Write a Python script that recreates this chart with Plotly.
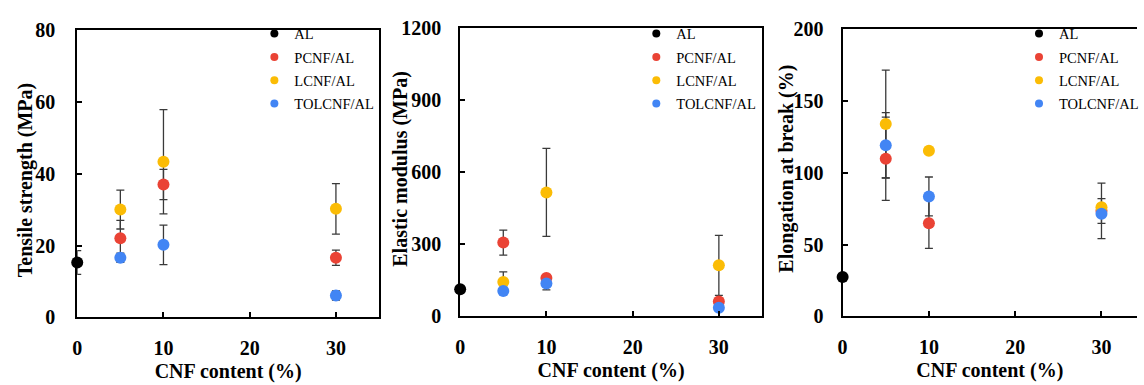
import plotly.graph_objects as go

W, H = 1144, 385

# ---------------- data ----------------
series_names = ["AL", "PCNF/AL", "LCNF/AL", "TOLCNF/AL"]
series_colors = ["#000000", "#EA4335", "#FBBC05", "#4285F4"]

x_al = [0]
x_cnf = [5, 10, 30]

# Tensile strength (MPa)
ts_al = [15.3]
ts_al_err = [3.3]
ts_pcnf = [22.0, 37.0, 16.6]
ts_pcnf_err = [5.0, 4.2, 2.1]
ts_lcnf = [30.0, 43.3, 30.2]
ts_lcnf_err = [5.4, 14.5, 7.0]
ts_tolcnf = [16.6, 20.2, 6.1]
ts_tolcnf_err = [1.3, 5.5, 1.3]

# Elastic modulus (MPa)
em_al = [113]
em_al_err = [10]
em_pcnf = [308, 160, 62]
em_pcnf_err = [52, 12, 10]
em_lcnf = [144, 517, 213]
em_lcnf_err = [42, 183, 125]
em_tolcnf = [106, 137, 36]
em_tolcnf_err = [8, 26, 8]

# Elongation at break (%)
eb_al = [27.5]
eb_al_err = [2]
eb_pcnf = [109.7, 64.9, 73.5]
eb_pcnf_err = [28.9, 17.5, 19.3]
eb_lcnf = [133.8, 115.3, 75.9]
eb_lcnf_err = [37.5, 2, 6]
eb_tolcnf = [119.1, 83.5, 71.5]
eb_tolcnf_err = [22.7, 13.5, 6.8]

x_title = "CNF content (%)"
y_titles = ["Tensile strength (MPa)", "Elastic modulus (MPa)", "Elongation at break (%)"]
x_ticks = [0, 10, 20, 30]
y_ticks = [[0, 20, 40, 60, 80], [0, 300, 600, 900, 1200], [0, 50, 100, 150, 200]]
y_ranges = [[0, 80], [0, 1200], [0, 200]]

panels = [
    [(ts_al, ts_al_err), (ts_pcnf, ts_pcnf_err), (ts_lcnf, ts_lcnf_err), (ts_tolcnf, ts_tolcnf_err)],
    [(em_al, em_al_err), (em_pcnf, em_pcnf_err), (em_lcnf, em_lcnf_err), (em_tolcnf, em_tolcnf_err)],
    [(eb_al, eb_al_err), (eb_pcnf, eb_pcnf_err), (eb_lcnf, eb_lcnf_err), (eb_tolcnf, eb_tolcnf_err)],
]

# ---------------- layout geometry (pixels) ----------------
px_left = [73, 460, 846.5]
px_right = [378, 765, 1144]
px_top = [20, 18.5, 19]
px_bottom = [325, 324, 324]
x_ranges = [[0, 35], [0, 35], [0, (1144 - 846.5) / 8.72]]
legend_left = [252, 638, 1025]
legend_top = [7, 7, 7]
ytitle_x = [20.7, 400, 790]
ytitle_y = [179, 167.5, 167.5]
ylabel_standoff = [16, 13, 13]

FONT = "Liberation Serif"

fig = go.Figure()

for p, data in enumerate(panels):
    xa = "x" if p == 0 else f"x{p+1}"
    ya = "y" if p == 0 else f"y{p+1}"
    lg = "legend" if p == 0 else f"legend{p+1}"
    # error bars (drawn beneath every marker)
    for s, (vals, errs) in enumerate(data):
        xs = x_al if s == 0 else x_cnf
        fig.add_trace(go.Scatter(
            x=xs, y=vals, mode="markers", xaxis=xa, yaxis=ya,
            marker=dict(size=12, color="rgba(0,0,0,0)"),
            error_y=dict(type="data", array=errs, visible=True,
                         color="#3a3a3a", thickness=1.3, width=4),
            showlegend=False, cliponaxis=False, hoverinfo="skip"))
    # markers
    for s, (vals, errs) in enumerate(data):
        xs = x_al if s == 0 else x_cnf
        fig.add_trace(go.Scatter(
            x=xs, y=vals, mode="markers", xaxis=xa, yaxis=ya,
            marker=dict(size=12, color=series_colors[s]),
            name=series_names[s], showlegend=False, cliponaxis=False))
    # legend entries with the smaller legend symbols
    for s in range(4):
        fig.add_trace(go.Scatter(
            x=[None], y=[None], mode="markers", xaxis=xa, yaxis=ya,
            marker=dict(size=8, color=series_colors[s]),
            name=series_names[s], legend=lg, legendgroup=f"{p}-{s}",
            showlegend=True))

layout = dict(
    width=W, height=H,
    margin=dict(l=0, r=0, t=0, b=0),
    paper_bgcolor="white", plot_bgcolor="white",
    font=dict(family=FONT, color="black"),
)

annotations = []
for p in range(3):
    xk = "xaxis" if p == 0 else f"xaxis{p+1}"
    yk = "yaxis" if p == 0 else f"yaxis{p+1}"
    xa_anchor = "y" if p == 0 else f"y{p+1}"
    ya_anchor = "x" if p == 0 else f"x{p+1}"
    layout[xk] = dict(
        domain=[px_left[p] / W, px_right[p] / W],
        range=x_ranges[p], anchor=xa_anchor,
        tickvals=x_ticks, ticks="inside", ticklen=5, tickwidth=2, tickcolor="black",
        showline=True, linecolor="black", linewidth=2, mirror=True,
        showgrid=False, zeroline=False,
        tickfont=dict(family=FONT, size=20, weight=700),
        ticklabelstandoff=12,
        title=dict(text=x_title, font=dict(family=FONT, size=20, weight=700), standoff=6),
    )
    layout[yk] = dict(
        domain=[(H - px_bottom[p]) / H, (H - px_top[p]) / H],
        range=y_ranges[p], anchor=ya_anchor,
        tickvals=y_ticks[p], ticks="inside", ticklen=5, tickwidth=2, tickcolor="black",
        showline=True, linecolor="black", linewidth=2, mirror=(p != 2),
        showgrid=False, zeroline=False,
        tickfont=dict(family=FONT, size=20, weight=700),
        ticklabelstandoff=ylabel_standoff[p],
    )
    annotations.append(dict(
        text=y_titles[p], xref="paper", yref="paper",
        x=ytitle_x[p] / W, y=(H - ytitle_y[p]) / H,
        xanchor="center", yanchor="middle", textangle=-90, showarrow=False,
        font=dict(family=FONT, size=20, weight=700, color="black")))
    lk = "legend" if p == 0 else f"legend{p+1}"
    layout[lk] = dict(
        x=legend_left[p] / W, y=(H - legend_top[p]) / H,
        xanchor="left", yanchor="top",
        bgcolor="rgba(0,0,0,0)", borderwidth=0,
        font=dict(family=FONT, size=14.5, color="black"),
        traceorder="grouped", tracegroupgap=1.5,
        itemsizing="trace",
    )

layout["annotations"] = annotations
fig.update_layout(**layout)
fig.write_html("out.html")
